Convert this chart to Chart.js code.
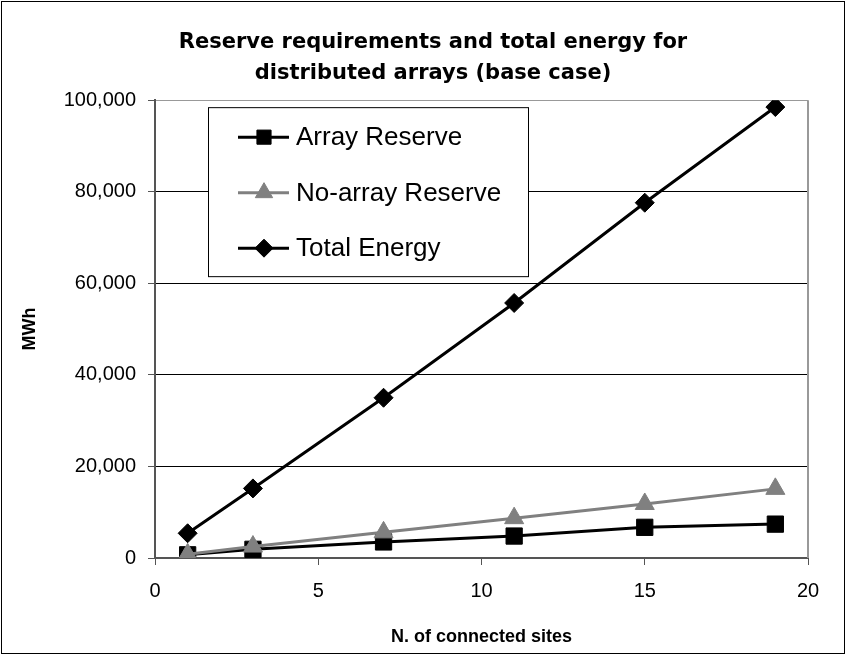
<!DOCTYPE html>
<html>
<head>
<meta charset="utf-8">
<script src="https://cdn.jsdelivr.net/npm/chart.js@4.4.0/dist/chart.umd.min.js"></script>
<style>
  body { margin: 0; background: #fff; }
  canvas { display: block; }
</style>
</head>
<body>
<canvas id="reserve" width="846" height="655"></canvas>
<script>
'use strict';

const sites = [1, 3, 7, 11, 15, 19];
const arrayReserve = [700, 1900, 3500, 4800, 6700, 7400];
const noArrayReserve = [800, 2500, 5600, 8700, 11800, 15100];
const totalEnergy = [5400, 15200, 35000, 55700, 77600, 98500];
const seriesNames = ['Array Reserve', 'No-array Reserve', 'Total Energy'];
const titleLines = ['Reserve requirements and total energy for', 'distributed arrays (base case)'];

function points(values) {
    return sites.map((x, i) => ({x: x, y: values[i]}));
}

// gray frame on the plot plus the black outline round the picture
const frame = {
    id: 'frame',
    beforeDatasetsDraw(chart) {
        const a = chart.chartArea;
        const ctx = chart.ctx;
        ctx.save();
        ctx.strokeStyle = '#999';
        ctx.lineWidth = 2;
        ctx.beginPath();
        ctx.moveTo(a.right, a.top);
        ctx.lineTo(a.right, a.bottom);
        ctx.stroke();
        ctx.restore();
    },
    afterDraw(chart) {
        const ctx = chart.ctx;
        ctx.save();
        ctx.strokeStyle = '#000';
        ctx.lineWidth = 1;
        ctx.strokeRect(1.5, 1.5, chart.width - 3, chart.height - 3);
        ctx.restore();
    }
};

// legend box inside the plot, top left
const boxLegend = {
    id: 'boxLegend',
    afterDatasetsDraw(chart) {
        const a = chart.chartArea;
        const ctx = chart.ctx;
        const left = a.left + 53, top = a.top + 7;
        ctx.save();
        ctx.fillStyle = '#fff';
        ctx.fillRect(left, top, 320, 169);
        ctx.strokeStyle = '#000';
        ctx.lineWidth = 1;
        ctx.strokeRect(left + 0.5, top + 0.5, 320, 169);
        chart.data.datasets.forEach((ds, i) => {
            const y = top + 30 + i * 55.5;
            ctx.strokeStyle = ds.borderColor;
            ctx.lineWidth = 3;
            ctx.beginPath();
            ctx.moveTo(left + 30, y);
            ctx.lineTo(left + 81, y);
            ctx.stroke();
            ctx.fillStyle = ds.pointBackgroundColor;
            ctx.strokeStyle = ds.pointBackgroundColor;
            ctx.lineWidth = 1;
            Chart.helpers.drawPoint(ctx, {
                pointStyle: ds.pointStyle,
                radius: ds.legendRadius,
                rotation: 0,
                borderWidth: 1
            }, left + 56, y);
            ctx.fillStyle = '#000';
            ctx.font = '26px "Liberation Sans", Arial, sans-serif';
            ctx.textBaseline = 'middle';
            ctx.textAlign = 'left';
            ctx.fillText(ds.label, left + 88, y + 1);
        });
        ctx.restore();
    }
};

const ctx = document.getElementById('reserve').getContext('2d');
const reserveChart = new Chart(ctx, {
    type: 'line',
    data: {
        datasets: [{
            label: seriesNames[0],
            data: points(arrayReserve),
            borderColor: '#000',
            borderWidth: 3,
            pointStyle: 'rect',
            pointRadius: 11.5,
            legendRadius: 10,
            pointBackgroundColor: '#000',
            pointBorderColor: '#000',
            pointBorderWidth: 1,
            order: 3
        }, {
            label: seriesNames[1],
            data: points(noArrayReserve),
            borderColor: '#808080',
            borderWidth: 3,
            pointStyle: 'triangle',
            pointRadius: 11,
            legendRadius: 10,
            pointBackgroundColor: '#808080',
            pointBorderColor: '#808080',
            pointBorderWidth: 1,
            order: 2
        }, {
            label: seriesNames[2],
            data: points(totalEnergy),
            borderColor: '#000',
            borderWidth: 3,
            pointStyle: 'rectRot',
            pointRadius: 9.5,
            legendRadius: 9,
            pointBackgroundColor: '#000',
            pointBorderColor: '#000',
            pointBorderWidth: 1,
            order: 1
        }]
    },
    options: {
        responsive: false,
        animation: false,
        layout: {
            // left padding keeps the main title centred where the original has it
            padding: {left: 58, right: 38, top: 0, bottom: 0}
        },
        scales: {
            x: {
                type: 'linear',
                min: 0,
                max: 20,
                ticks: {
                    stepSize: 5,
                    color: '#000',
                    padding: 14,
                    font: {family: '"Liberation Sans", Arial, sans-serif', size: 20}
                },
                grid: {
                    drawOnChartArea: false,
                    tickLength: 7,
                    tickColor: '#555',
                    tickWidth: 1
                },
                border: {color: '#555', width: 2},
                title: {
                    display: true,
                    text: 'N. of connected sites',
                    color: '#000',
                    padding: {top: 0, bottom: 7},
                    font: {family: '"Liberation Sans", Arial, sans-serif', size: 18, weight: 'bold'}
                },
                afterFit(scale) {
                    scale.height = 97;
                }
            },
            y: {
                min: 0,
                max: 100000,
                ticks: {
                    stepSize: 20000,
                    color: '#000',
                    padding: 12,
                    font: {family: '"Liberation Sans", Arial, sans-serif', size: 20}
                },
                grid: {
                    color: c => c.tick.value === 100000 ? '#999' : (c.tick.value === 0 ? '#555' : '#000'),
                    lineWidth: 1,
                    tickLength: 7,
                    tickColor: '#555'
                },
                border: {color: '#555', width: 2},
                title: {
                    display: true,
                    text: 'MWh',
                    color: '#000',
                    padding: {top: -39, bottom: 0},
                    font: {family: '"Liberation Sans", Arial, sans-serif', size: 18, weight: 'bold'}
                },
                afterFit(scale) {
                    scale.width = 97;
                }
            }
        },
        plugins: {
            legend: {display: false},
            tooltip: {enabled: false},
            title: {
                display: true,
                text: titleLines,
                color: '#000',
                padding: {top: 27, bottom: 11},
                font: {family: '"DejaVu Sans", sans-serif', size: 21, weight: 'bold', lineHeight: 1.48}
            }
        },
        elements: {
            line: {tension: 0}
        }
    },
    plugins: [frame, boxLegend]
});
</script>
</body>
</html>
